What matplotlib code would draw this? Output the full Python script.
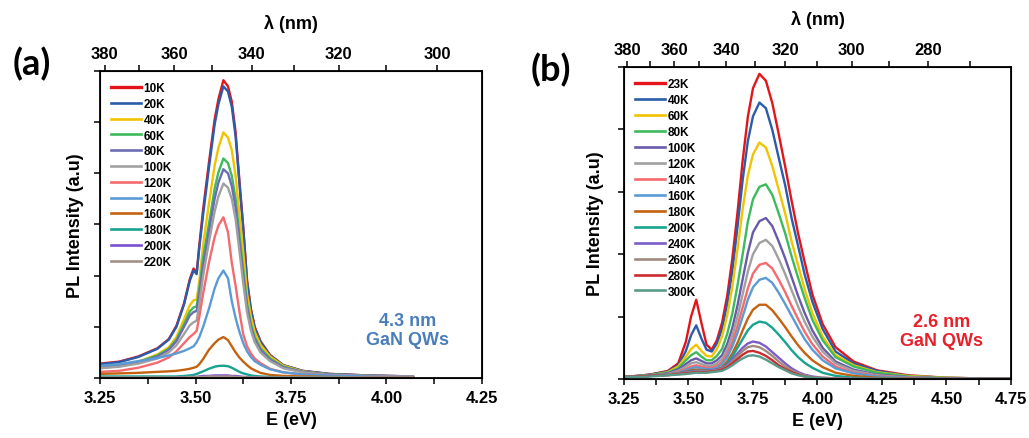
"""Temperature-dependent PL spectra of two GaN quantum-well samples."""

import matplotlib

matplotlib.use("Agg")

import matplotlib.pyplot as plt
from matplotlib.lines import Line2D
from matplotlib.ticker import FixedLocator, MultipleLocator, NullFormatter

HC = 1239.84  # eV * nm

# ---------------- panel (a): 4.3 nm GaN QWs ----------------
ENERGY_A = [3.25, 3.30, 3.35, 3.40, 3.43, 3.45, 3.47, 3.485, 3.495, 3.503, 3.51,
            3.52, 3.535, 3.55, 3.56, 3.573, 3.585, 3.595, 3.605, 3.615, 3.625,
            3.635, 3.645, 3.655, 3.67, 3.695, 3.73, 3.78, 3.85, 3.95, 4.07]

PL_A_10K = [0.28, 0.32, 0.42, 0.58, 0.76, 1.02, 1.46, 1.93, 2.14, 2.05, 2.6, 3.3, 4.2, 5.05, 5.45, 5.82,
            5.7, 5.4, 4.8, 3.85, 2.95, 1.9, 1.35, 1.0, 0.72, 0.45, 0.25, 0.14, 0.08, 0.05, 0.03]
PL_A_20K = [0.27, 0.31, 0.41, 0.57, 0.75, 1.0, 1.44, 1.9, 2.1, 2.03, 2.55, 3.2, 4.1, 4.95, 5.35, 5.70,
            5.6, 5.3, 4.72, 3.8, 2.9, 1.88, 1.33, 0.98, 0.71, 0.44, 0.25, 0.14, 0.08, 0.05, 0.03]
PL_A_40K = [0.2, 0.24, 0.32, 0.46, 0.6, 0.8, 1.15, 1.42, 1.52, 1.53, 1.9, 2.6, 3.4, 4.15, 4.5, 4.80,
            4.7, 4.45, 3.95, 3.2, 2.45, 1.65, 1.2, 0.9, 0.65, 0.42, 0.24, 0.13, 0.07, 0.04, 0.03]
PL_A_60K = [0.2, 0.24, 0.31, 0.44, 0.57, 0.75, 1.05, 1.3, 1.38, 1.40, 1.75, 2.35, 3.0, 3.7, 4.02, 4.29,
            4.2, 3.95, 3.5, 2.8, 2.1, 1.45, 1.05, 0.8, 0.58, 0.38, 0.22, 0.12, 0.07, 0.04, 0.03]
PL_A_80K = [0.2, 0.23, 0.3, 0.42, 0.55, 0.72, 1.0, 1.22, 1.29, 1.31, 1.65, 2.2, 2.85, 3.5, 3.82, 4.08,
            4.0, 3.75, 3.33, 2.65, 2.0, 1.38, 1.0, 0.76, 0.55, 0.36, 0.21, 0.12, 0.07, 0.04, 0.03]
PL_A_100K = [0.19, 0.22, 0.28, 0.38, 0.5, 0.64, 0.86, 1.03, 1.09, 1.12, 1.45, 2.0, 2.65, 3.25, 3.55, 3.80,
             3.72, 3.5, 3.1, 2.48, 1.85, 1.28, 0.93, 0.7, 0.5, 0.33, 0.19, 0.11, 0.06, 0.04, 0.03]
PL_A_120K = [0.12, 0.14, 0.2, 0.3, 0.4, 0.52, 0.68, 0.8, 0.86, 0.92, 1.2, 1.65, 2.25, 2.75, 2.98, 3.14,
             2.85, 2.25, 1.8, 1.3, 0.85, 0.62, 0.48, 0.38, 0.29, 0.18, 0.11, 0.07, 0.05, 0.03, 0.02]
PL_A_140K = [0.24, 0.27, 0.33, 0.39, 0.44, 0.48, 0.53, 0.58, 0.62, 0.70, 0.8, 1.0, 1.35, 1.75, 1.95, 2.10,
             1.95, 1.5, 1.17, 0.9, 0.68, 0.52, 0.41, 0.33, 0.26, 0.17, 0.11, 0.07, 0.05, 0.03, 0.02]
PL_A_160K = [0.08, 0.09, 0.1, 0.12, 0.13, 0.14, 0.16, 0.18, 0.2, 0.22, 0.27, 0.37, 0.55, 0.68, 0.75, 0.80,
             0.74, 0.62, 0.5, 0.4, 0.32, 0.25, 0.19, 0.15, 0.1, 0.06, 0.04, 0.03, 0.02, 0.01, 0.01]
PL_A_180K = [0.03, 0.03, 0.03, 0.03, 0.03, 0.03, 0.04, 0.05, 0.06, 0.08, 0.1, 0.13, 0.18, 0.22, 0.235, 0.24,
             0.23, 0.2, 0.16, 0.12, 0.09, 0.07, 0.05, 0.04, 0.03, 0.02, 0.01, 0.01, 0.01, 0.0, 0.0]
PL_A_200K = [0.0, 0.0, 0.0, 0.0, 0.0, 0.01, 0.01, 0.01, 0.02, 0.02, 0.03, 0.04, 0.04, 0.05, 0.05, 0.05,
             0.05, 0.04, 0.04, 0.03, 0.02, 0.02, 0.01, 0.01, 0.01, 0.0, 0.0, 0.0, 0.0, 0.0, 0.0]
PL_A_220K = [0.01, 0.01, 0.01, 0.01, 0.01, 0.01, 0.01, 0.02, 0.02, 0.02, 0.02, 0.02, 0.03, 0.03, 0.03, 0.03,
             0.03, 0.03, 0.02, 0.02, 0.02, 0.01, 0.01, 0.01, 0.01, 0.01, 0.01, 0.01, 0.01, 0.01, 0.01]

LABELS_A = ["10K", "20K", "40K", "60K", "80K", "100K", "120K", "140K", "160K", "180K", "200K", "220K"]
CURVES_A = [PL_A_10K, PL_A_20K, PL_A_40K, PL_A_60K, PL_A_80K, PL_A_100K, PL_A_120K,
            PL_A_140K, PL_A_160K, PL_A_180K, PL_A_200K, PL_A_220K]
COLORS_A = ["#e3151b", "#2a5caa", "#f2c300", "#3dba5c", "#6b6db5", "#a0a0a0",
            "#f46a6e", "#5b9bd5", "#c4620f", "#17a38f", "#7b4fd0", "#a39088"]

# ---------------- panel (b): 2.6 nm GaN QWs ----------------
ENERGY_B = [3.25, 3.35, 3.42, 3.46, 3.49, 3.51, 3.53, 3.55, 3.57, 3.59, 3.61,
            3.63, 3.65, 3.67, 3.69, 3.71, 3.73, 3.75, 3.775, 3.80, 3.825, 3.85, 3.875,
            3.90, 3.925, 3.95, 3.98, 4.02, 4.07, 4.14, 4.23, 4.35, 4.50, 4.75]

PL_B_23K = [0.03, 0.07, 0.13, 0.25, 0.6, 1.0, 1.27, 0.9, 0.55, 0.47, 0.62,
            0.9, 1.33, 1.93, 2.67, 3.5, 4.2, 4.66, 4.89, 4.78, 4.42, 3.92, 3.40,
            2.85, 2.33, 1.88, 1.36, 0.88, 0.51, 0.28, 0.14, 0.06, 0.02, 0.0]
PL_B_40K = [0.03, 0.07, 0.12, 0.22, 0.45, 0.7, 0.86, 0.65, 0.47, 0.44, 0.57,
            0.80, 1.2, 1.73, 2.44, 3.19, 3.81, 4.21, 4.43, 4.34, 3.99, 3.54, 3.10,
            2.57, 2.13, 1.68, 1.24, 0.80, 0.44, 0.25, 0.13, 0.05, 0.02, 0.0]
PL_B_60K = [0.03, 0.06, 0.11, 0.2, 0.36, 0.48, 0.55, 0.45, 0.37, 0.36, 0.48,
            0.68, 1.02, 1.48, 2.08, 2.73, 3.26, 3.60, 3.79, 3.71, 3.41, 3.03, 2.65,
            2.20, 1.82, 1.44, 1.06, 0.68, 0.38, 0.22, 0.11, 0.05, 0.02, 0.0]
PL_B_80K = [0.03, 0.06, 0.1, 0.17, 0.3, 0.38, 0.43, 0.36, 0.3, 0.3, 0.37,
            0.48, 0.72, 1.05, 1.5, 2.0, 2.52, 2.88, 3.08, 3.12, 2.95, 2.65, 2.33,
            1.96, 1.62, 1.3, 0.95, 0.62, 0.35, 0.2, 0.1, 0.04, 0.015, 0.0]
PL_B_100K = [0.03, 0.05, 0.09, 0.15, 0.24, 0.3, 0.33, 0.29, 0.25, 0.25, 0.3,
             0.38, 0.56, 0.82, 1.18, 1.6, 2.02, 2.35, 2.53, 2.58, 2.45, 2.2, 1.93,
             1.63, 1.33, 1.06, 0.78, 0.5, 0.28, 0.15, 0.07, 0.03, 0.01, 0.0]
PL_B_120K = [0.03, 0.05, 0.08, 0.13, 0.2, 0.25, 0.27, 0.24, 0.21, 0.21, 0.25,
             0.32, 0.47, 0.7, 1.0, 1.36, 1.72, 2.0, 2.18, 2.23, 2.13, 1.92, 1.68,
             1.42, 1.16, 0.92, 0.68, 0.44, 0.25, 0.13, 0.06, 0.025, 0.01, 0.0]
PL_B_140K = [0.03, 0.05, 0.07, 0.11, 0.16, 0.2, 0.22, 0.2, 0.18, 0.18, 0.21,
             0.27, 0.4, 0.59, 0.85, 1.15, 1.45, 1.69, 1.83, 1.86, 1.77, 1.59, 1.39,
             1.17, 0.96, 0.76, 0.56, 0.36, 0.2, 0.1, 0.05, 0.02, 0.01, 0.0]
PL_B_160K = [0.03, 0.05, 0.07, 0.1, 0.14, 0.17, 0.19, 0.17, 0.16, 0.16, 0.18,
             0.24, 0.35, 0.52, 0.74, 1.0, 1.27, 1.47, 1.59, 1.62, 1.54, 1.38, 1.2,
             1.01, 0.82, 0.64, 0.47, 0.3, 0.17, 0.09, 0.04, 0.02, 0.01, 0.0]
PL_B_180K = [0.03, 0.05, 0.07, 0.09, 0.12, 0.14, 0.15, 0.14, 0.14, 0.14, 0.15,
             0.19, 0.28, 0.41, 0.58, 0.78, 0.97, 1.11, 1.19, 1.19, 1.1, 0.97, 0.83,
             0.68, 0.54, 0.42, 0.3, 0.19, 0.1, 0.05, 0.02, 0.01, 0.0, 0.0]
PL_B_200K = [0.03, 0.05, 0.07, 0.09, 0.11, 0.13, 0.13, 0.13, 0.13, 0.13, 0.15,
             0.17, 0.25, 0.36, 0.5, 0.64, 0.78, 0.87, 0.92, 0.9, 0.82, 0.71, 0.59,
             0.46, 0.35, 0.26, 0.18, 0.1, 0.05, 0.02, 0.01, 0.0, 0.0, 0.0]
PL_B_240K = [0.03, 0.05, 0.07, 0.09, 0.11, 0.12, 0.13, 0.13, 0.13, 0.14, 0.15,
             0.17, 0.23, 0.31, 0.41, 0.5, 0.57, 0.6, 0.58, 0.52, 0.43, 0.34, 0.25,
             0.17, 0.11, 0.07, 0.04, 0.02, 0.01, 0.0, 0.0, 0.0, 0.0, 0.0]
PL_B_260K = [0.03, 0.05, 0.07, 0.09, 0.1, 0.11, 0.12, 0.12, 0.12, 0.13, 0.14,
             0.16, 0.21, 0.28, 0.37, 0.45, 0.51, 0.53, 0.51, 0.45, 0.37, 0.28, 0.2,
             0.14, 0.09, 0.06, 0.03, 0.02, 0.01, 0.0, 0.0, 0.0, 0.0, 0.0]
PL_B_280K = [0.03, 0.05, 0.06, 0.08, 0.09, 0.1, 0.11, 0.11, 0.11, 0.12, 0.13,
             0.15, 0.19, 0.25, 0.32, 0.39, 0.44, 0.45, 0.42, 0.37, 0.3, 0.22, 0.16,
             0.11, 0.07, 0.04, 0.02, 0.01, 0.0, 0.0, 0.0, 0.0, 0.0, 0.0]
PL_B_300K = [0.03, 0.04, 0.06, 0.07, 0.08, 0.09, 0.1, 0.1, 0.1, 0.11, 0.12,
             0.13, 0.17, 0.22, 0.28, 0.33, 0.37, 0.38, 0.36, 0.31, 0.25, 0.19, 0.14,
             0.09, 0.06, 0.04, 0.02, 0.01, 0.0, 0.0, 0.0, 0.0, 0.0, 0.0]

LABELS_B = ["23K", "40K", "60K", "80K", "100K", "120K", "140K", "160K",
            "180K", "200K", "240K", "260K", "280K", "300K"]
CURVES_B = [PL_B_23K, PL_B_40K, PL_B_60K, PL_B_80K, PL_B_100K, PL_B_120K, PL_B_140K,
            PL_B_160K, PL_B_180K, PL_B_200K, PL_B_240K, PL_B_260K, PL_B_280K, PL_B_300K]
COLORS_B = ["#e3151b", "#2a5caa", "#f2c300", "#3dba5c", "#6a5aaa", "#a0a0a0", "#f46a6e",
            "#5b9bd5", "#c4620f", "#17a38f", "#7b5cc8", "#a08a80", "#cc2a2e", "#5a9a8a"]

WAVELENGTH_TICKS_A = [380, 360, 340, 320, 300]
WAVELENGTH_TICKS_B = [380, 360, 340, 320, 300, 280]

plt.rcParams["font.family"] = ["Liberation Sans", "DejaVu Sans"]
plt.rcParams["font.weight"] = "bold"


def draw_panel(ax, energy, curves, labels, colors, xlim, ymax, wl_ticks,
               note, note_pos, note_color, ylabel_pad, row_gap):
    for values, label, color in zip(curves, labels, colors):
        ax.plot(energy, values, color=color, lw=1.7, label=label, solid_capstyle="round")

    ax.set_xlim(*xlim)
    ax.set_ylim(0, ymax)
    ax.xaxis.set_major_locator(MultipleLocator(0.25))
    ax.xaxis.set_minor_locator(MultipleLocator(0.125))
    ax.xaxis.set_major_formatter(plt.FuncFormatter(lambda v, _: f"{v:.2f}"))
    ax.yaxis.set_major_locator(MultipleLocator(1))
    ax.yaxis.set_major_formatter(NullFormatter())
    ax.tick_params(which="both", direction="out", length=4, width=1.1,
                   labelsize=12, top=False, right=False, pad=5)
    for spine in ax.spines.values():
        spine.set_linewidth(1.3)
    ax.set_xlabel("E (eV)", fontsize=13, fontweight="bold", labelpad=4)
    ax.set_ylabel("PL Intensity (a.u)", fontsize=13, fontweight="bold", labelpad=ylabel_pad)

    top = ax.twiny()
    top.set_xlim(ax.get_xlim())
    top.xaxis.set_major_locator(FixedLocator([HC / w for w in wl_ticks]))
    top.set_xticklabels([str(w) for w in wl_ticks])
    minor = [HC / w for w in range(250, 400, 10) if w not in wl_ticks and xlim[0] <= HC / w <= xlim[1]]
    top.xaxis.set_minor_locator(FixedLocator(minor))
    top.tick_params(which="both", direction="out", length=4, width=1.1, labelsize=12, pad=3)
    top.set_xlabel("\u03bb (nm)", fontsize=13, fontweight="bold", labelpad=13)

    handles = [Line2D([], [], color=c, lw=2.4 if i == 0 else 1.9) for i, c in enumerate(colors)]
    ax.legend(handles, labels, loc="upper left", frameon=False, handlelength=2.5,
              handletextpad=0.25, labelspacing=row_gap, borderaxespad=0.55,
              prop={"size": 8.5, "weight": "bold"})

    ax.text(note_pos[0], note_pos[1], note, transform=ax.transAxes, ha="center", va="center",
            color=note_color, fontsize=13, fontweight="bold", linespacing=1.2)


def main() -> None:
    fig = plt.figure(figsize=(10.29, 4.39), dpi=100)
    ax_a = fig.add_axes([0.0972, 0.1367, 0.3712, 0.6993])
    ax_b = fig.add_axes([0.6064, 0.1344, 0.3761, 0.7107])

    draw_panel(ax_a, ENERGY_A, CURVES_A, LABELS_A, COLORS_A, (3.25, 4.25), 6,
               WAVELENGTH_TICKS_A, "4.3 nm\nGaN QWs", (0.806, 0.156), "#4a7ebb", 2.5, 0.32)
    draw_panel(ax_b, ENERGY_B, CURVES_B, LABELS_B, COLORS_B, (3.25, 4.75), 5,
               WAVELENGTH_TICKS_B, "2.6 nm\nGaN QWs", (0.82, 0.154), "#e8202a", 5.5, 0.335)

    fig.text(32 / 1029, 1 - 64 / 439, "(a)", fontsize=26, fontweight="bold",
             family=["Lato", "DejaVu Sans"], ha="center", va="center")
    fig.text(551 / 1029, 1 - 70 / 439, "(b)", fontsize=26, fontweight="bold",
             family=["Lato", "DejaVu Sans"], ha="center", va="center")

    fig.savefig("out.png", dpi=100)
    plt.close(fig)


if __name__ == "__main__":
    main()
